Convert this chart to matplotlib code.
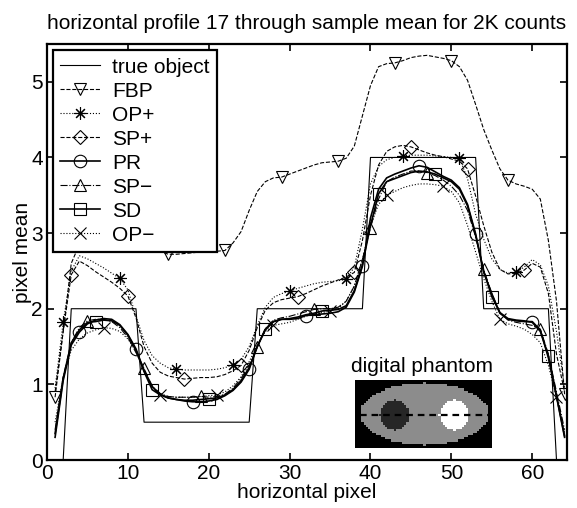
#!/usr/bin/env python3
"""Horizontal profile through sample mean, several reconstruction methods."""
import matplotlib
matplotlib.use("Agg")
import matplotlib.pyplot as plt
import numpy as np

plt.rcParams["font.family"] = ["Liberation Sans", "DejaVu Sans"]
plt.rcParams["font.size"] = 15

pixels = list(range(1, 65))

true_object = [0, 0] + [2] * 9 + [0.5] * 14 + [2] * 14 + [4] * 14 + [2] * 9 + [0, 0]

fbp = [0.83, 1.70, 2.60, 2.85, 2.95, 3.00, 3.00, 2.98, 2.95, 2.90,
       2.86, 2.82, 2.79, 2.76, 2.72, 2.72, 2.73, 2.74, 2.75, 2.75,
       2.76, 2.77, 2.87, 3.02, 3.30, 3.55, 3.68, 3.73, 3.74, 3.78,
       3.82, 3.86, 3.90, 3.93, 3.94, 3.95, 3.99, 4.15, 4.55, 4.95,
       5.20, 5.24, 5.25, 5.28, 5.32, 5.34, 5.35, 5.33, 5.31, 5.28,
       5.20, 5.02, 4.70, 4.37, 4.10, 3.85, 3.70, 3.65, 3.62, 3.58,
       3.45, 2.90, 2.10, 0.87]

op_plus = [0.95, 1.82, 2.50, 2.70, 2.66, 2.60, 2.54, 2.47, 2.40, 2.25,
           1.90, 1.58, 1.38, 1.28, 1.22, 1.20, 1.19, 1.19, 1.19, 1.19,
           1.20, 1.22, 1.26, 1.33, 1.50, 1.78, 2.02, 2.15, 2.20, 2.23,
           2.27, 2.30, 2.33, 2.35, 2.36, 2.37, 2.39, 2.55, 3.05, 3.65,
           3.88, 3.97, 4.00, 4.02, 4.03, 4.03, 4.03, 4.02, 4.01, 4.00,
           3.99, 3.72, 3.25, 2.92, 2.66, 2.52, 2.47, 2.48, 2.55, 2.65,
           2.58, 2.30, 1.70, 0.95]

sp_plus = [0.90, 1.70, 2.45, 2.63, 2.57, 2.49, 2.42, 2.35, 2.27, 2.17,
           1.88, 1.50, 1.28, 1.16, 1.11, 1.09, 1.07, 1.08, 1.09, 1.09,
           1.10, 1.13, 1.18, 1.25, 1.45, 1.75, 1.98, 2.08, 2.12, 2.14,
           2.16, 2.20, 2.25, 2.30, 2.34, 2.38, 2.42, 2.48, 2.90, 3.50,
           3.90, 4.08, 4.14, 4.16, 4.14, 4.10, 4.06, 4.03, 4.01, 3.98,
           3.95, 3.85, 3.49, 3.10, 2.75, 2.52, 2.46, 2.47, 2.51, 2.60,
           2.55, 2.20, 1.40, 0.90]

pr = [0.30, 1.05, 1.52, 1.69, 1.80, 1.85, 1.87, 1.86, 1.79, 1.66,
      1.47, 1.18, 0.97, 0.87, 0.82, 0.80, 0.78, 0.77, 0.77, 0.78,
      0.80, 0.85, 0.92, 1.03, 1.20, 1.50, 1.72, 1.83, 1.86, 1.86,
      1.87, 1.91, 1.92, 1.93, 1.94, 1.96, 2.02, 2.22, 2.56, 3.20,
      3.58, 3.73, 3.78, 3.82, 3.86, 3.89, 3.87, 3.81, 3.75, 3.70,
      3.60, 3.38, 2.99, 2.48, 2.20, 1.94, 1.86, 1.84, 1.83, 1.83,
      1.72, 1.35, 0.84, 0.30]

sp_minus = [0.40, 1.10, 1.55, 1.75, 1.84, 1.86, 1.86, 1.83, 1.75, 1.62,
            1.42, 1.21, 0.98, 0.88, 0.84, 0.83, 0.83, 0.83, 0.84, 0.83,
            0.84, 0.87, 0.95, 1.08, 1.25, 1.49, 1.74, 1.85, 1.88, 1.90,
            1.93, 1.96, 1.99, 2.00, 2.00, 2.02, 2.10, 2.30, 2.65, 3.07,
            3.45, 3.68, 3.74, 3.78, 3.82, 3.82, 3.80, 3.76, 3.70, 3.62,
            3.50, 3.30, 2.95, 2.52, 2.20, 1.95, 1.85, 1.82, 1.80, 1.78,
            1.73, 1.40, 0.90, 0.40]

sd = [0.35, 1.08, 1.55, 1.72, 1.82, 1.83, 1.85, 1.84, 1.78, 1.65,
      1.45, 1.17, 0.93, 0.86, 0.82, 0.80, 0.79, 0.79, 0.80, 0.81,
      0.82, 0.86, 0.93, 1.05, 1.22, 1.50, 1.73, 1.83, 1.86, 1.87,
      1.89, 1.92, 1.94, 1.97, 1.98, 1.99, 2.04, 2.24, 2.58, 3.10,
      3.52, 3.68, 3.72, 3.76, 3.80, 3.82, 3.81, 3.78, 3.73, 3.68,
      3.58, 3.36, 2.97, 2.50, 2.16, 1.95, 1.87, 1.85, 1.84, 1.82,
      1.70, 1.38, 0.85, 0.32]

op_minus = [0.50, 1.10, 1.45, 1.60, 1.68, 1.72, 1.75, 1.74, 1.70, 1.60,
            1.45, 1.20, 0.98, 0.86, 0.84, 0.83, 0.83, 0.83, 0.84, 0.85,
            0.86, 0.90, 0.98, 1.10, 1.30, 1.52, 1.70, 1.78, 1.80, 1.82,
            1.86, 1.90, 1.93, 1.95, 1.97, 2.00, 2.10, 2.30, 2.65, 3.10,
            3.38, 3.50, 3.55, 3.60, 3.63, 3.65, 3.65, 3.64, 3.62, 3.55,
            3.40, 3.10, 2.75, 2.40, 2.10, 1.86, 1.80, 1.77, 1.73, 1.66,
            1.55, 1.25, 0.83, 0.35]

# name, data, linestyle, marker, first marker index
series = [
    ("FBP", fbp, "--", "v", 0),
    ("OP+", op_plus, ":", (8, 2, 0), 1),
    ("SP+", sp_plus, "--", "D", 2),
    ("PR", pr, "-", "o", 3),
    ("SP\u2212", sp_minus, "-.", "^", 4),
    ("SD", sd, "-", "s", 5),
    ("OP\u2212", op_minus, ":", "x", 6),
]

# phantom: 64 x 32 image, ellipse with a cold and a hot disc
phantom_shape = (32, 64)
ellipse_center = (16.0, 32.5)
ellipse_axes = (14.5, 30.0)
cold_center, hot_center = (16.5, 18.5), (16.5, 46.5)
disc_radius = 7.0
levels = {"background": 0.0, "ellipse": 2.2, "cold": 0.6, "hot": 4.0}
profile_row = 16.5


def make_phantom():
    rr, cc = np.mgrid[0:phantom_shape[0], 0:phantom_shape[1]] + 0.5
    img = np.full(phantom_shape, levels["background"])
    inside = ((rr - ellipse_center[0]) / ellipse_axes[0]) ** 2 + ((cc - ellipse_center[1]) / ellipse_axes[1]) ** 2 <= 1
    img[inside] = levels["ellipse"]
    img[(rr - cold_center[0]) ** 2 + (cc - cold_center[1]) ** 2 <= disc_radius ** 2] = levels["cold"]
    img[(rr - hot_center[0]) ** 2 + (cc - hot_center[1]) ** 2 <= disc_radius ** 2] = levels["hot"]
    return img


fig = plt.figure(figsize=(5.77, 5.08), dpi=100)
ax = fig.add_axes([47 / 577, 48 / 508, 520 / 577, 416 / 508])

ax.plot(pixels, true_object, "-", color="black", lw=0.8, label="true object")
for name, vals, ls, mk, start in series:
    lw = 1.2 if ls == "-" else 0.8
    ms = 7.5 if mk == "D" else 9
    ax.plot(pixels, vals, linestyle=ls, color="black", lw=lw, marker=mk,
            markevery=(start, 7), markersize=ms, markerfacecolor="none",
            markeredgecolor="black", markeredgewidth=0.8, label=name)

ax.set_xlim(0, 64.3)
ax.set_ylim(0, 5.5)
ax.set_xticks(range(0, 61, 10))
ax.set_yticks(range(0, 6))
ax.tick_params(direction="in", top=True, right=True, length=5, width=1.2, pad=3, labelsize=15)
for sp in ax.spines.values():
    sp.set_linewidth(1.6)

ax.set_title("horizontal profile 17 through sample mean for 2K counts", fontsize=15, pad=11)
ax.set_xlabel("horizontal pixel", fontsize=15, labelpad=0)
ax.set_ylabel("pixel mean", fontsize=15, labelpad=-1)

leg = ax.legend(loc="upper left", bbox_to_anchor=(0.011, 0.985), fontsize=15, handlelength=1.9,
                handletextpad=0.6, labelspacing=0.24, borderpad=0.35, borderaxespad=0.0,
                fancybox=False, framealpha=1.0, edgecolor="black")
leg.get_frame().set_linewidth(1.6)

# inset with the digital phantom
ins = fig.add_axes([355 / 577, 60 / 508, 137 / 577, 68 / 508])
ins.imshow(make_phantom(), cmap="gray", vmin=0, vmax=4, aspect="auto",
           interpolation="nearest", extent=(0, phantom_shape[1], phantom_shape[0], 0))
ins.plot([2.5, 62.5], [profile_row, profile_row], "--", color="black", lw=1.6, dashes=(3, 2.2))
ins.set_xlim(0, phantom_shape[1])
ins.set_ylim(phantom_shape[0], 0)
ins.axis("off")
fig.text(422 / 577, (508 - 366) / 508, "digital phantom", ha="center", va="center", fontsize=15)

fig.savefig("out.png", dpi=100)
